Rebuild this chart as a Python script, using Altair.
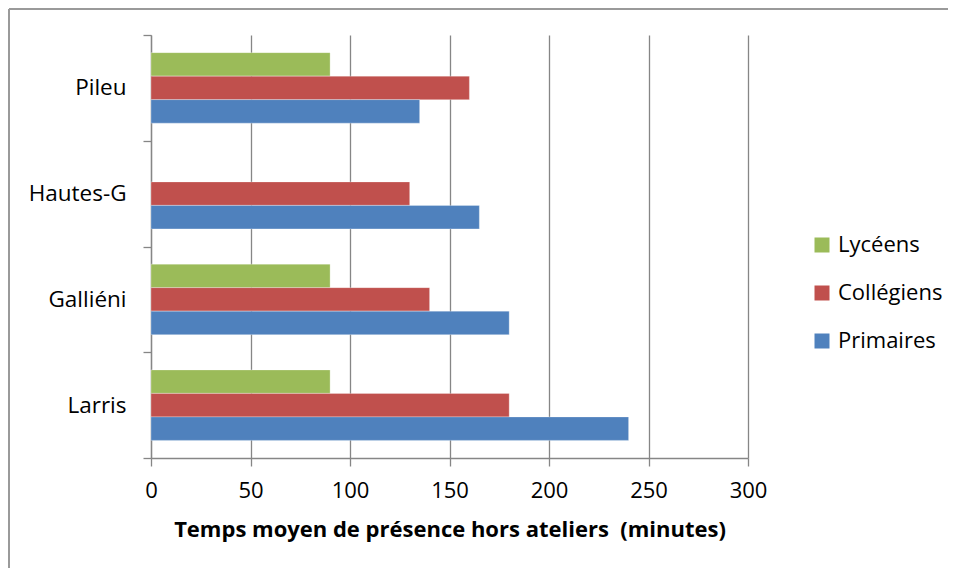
import altair as alt
import pandas as pd

sites = ["Pileu", "Hautes-G", "Galliéni", "Larris"]
series = ["Lycéens", "Collégiens", "Primaires"]
lyceens = [90, None, 90, 90]
collegiens = [160, 130, 140, 180]
primaires = [135, 165, 180, 240]
colors = ["#9BBB59", "#C0504D", "#4F81BD"]
x_ticks = [0, 50, 100, 150, 200, 250, 300]
x_title = "Temps moyen de présence hors ateliers \u00a0(minutes)"

rows = []
for i, s in enumerate(sites):
    for name, vals in zip(series, [lyceens, collegiens, primaires]):
        if vals[i] is not None:
            rows.append({"site": s, "serie": name, "minutes": vals[i]})
df = pd.DataFrame(rows)

FONT = "Open Sans"
GRAY = "#868686"

bars = alt.Chart(df).mark_bar(stroke="white", strokeWidth=0.3).encode(
    x=alt.X(
        "minutes:Q",
        scale=alt.Scale(domain=[0, 300], nice=False),
        axis=alt.Axis(
            values=x_ticks, title=x_title, grid=True, gridColor=GRAY, gridWidth=1.3,
            domainColor=GRAY, domainWidth=1.3, tickColor=GRAY, tickSize=8, tickWidth=1.3,
            labelFont=FONT, labelFontSize=22, labelColor="black", labelPadding=14,
            labelFlush=False,
            titleFont=FONT, titleFontSize=22, titleFontWeight="bold", titleColor="black",
            titlePadding=18,
        ),
    ),
    y=alt.Y(
        "site:N",
        sort=sites,
        scale=alt.Scale(paddingInner=0, paddingOuter=0),
        axis=alt.Axis(
            title=None, tickBand="extent", grid=False, domainColor=GRAY, domainWidth=1.3,
            tickColor=GRAY, tickSize=8, tickWidth=1.3, labelFont=FONT, labelFontSize=22.5,
            labelColor="black", labelPadding=17,
        ),
    ),
    yOffset=alt.YOffset(
        "serie:N", sort=series, scale=alt.Scale(paddingInner=0, paddingOuter=0.75)
    ),
    color=alt.Color(
        "serie:N",
        scale=alt.Scale(domain=series, range=colors),
        legend=alt.Legend(
            title=None, orient="none", legendX=660, legendY=199, symbolType="square",
            symbolSize=225, symbolStrokeWidth=0, labelFont=FONT, labelFontSize=22,
            labelColor="black", rowPadding=26, labelOffset=5,
        ),
    ),
)

one = pd.DataFrame({"a": [0]})
left_border = alt.Chart(one).mark_rule(color="#9a9a9a", strokeWidth=2).encode(
    x=alt.value(-142), y=alt.value(-26), y2=alt.value(600)
)
top_border = alt.Chart(one).mark_rule(color="#9a9a9a", strokeWidth=2).encode(
    x=alt.value(-142), x2=alt.value(900), y=alt.value(-26)
)

chart = alt.layer(bars, left_border, top_border).properties(
    width=597, height=423,
    padding={"left": 143, "top": 27, "right": 200, "bottom": 110},
    autosize=alt.AutoSizeParams(type="none"),
).configure_view(stroke=None)

chart.save("out.html", embed_options={"renderer": "svg", "actions": False})
